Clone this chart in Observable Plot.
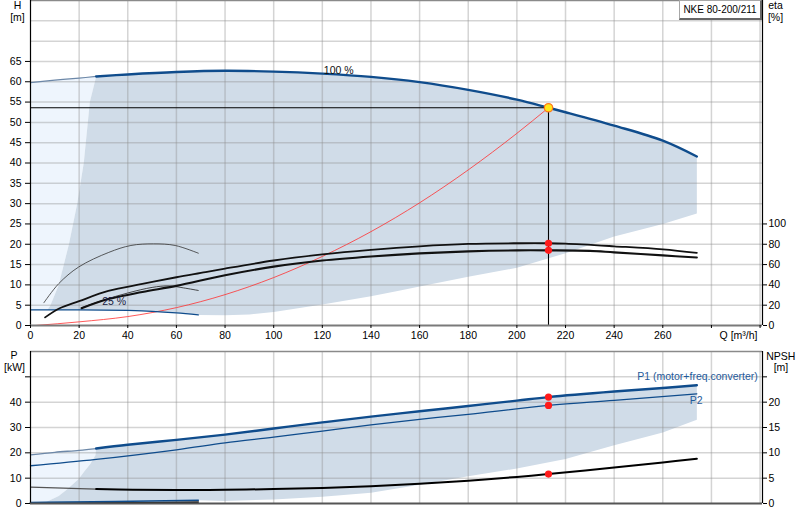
<!DOCTYPE html>
<html><head><meta charset="utf-8">
<script src="https://cdn.jsdelivr.net/npm/d3@7"></script>
<script src="https://cdn.jsdelivr.net/npm/@observablehq/plot@0.6"></script>
<style>
html,body{margin:0;padding:0;background:#fff;}
#wrap{position:relative;width:800px;height:520px;overflow:hidden;font-family:"Liberation Sans",Arial,sans-serif;background:#fff;}
#top,#bot{position:absolute;left:0;}
#top{top:0;} #bot{top:342px;}
#model{position:absolute;left:679px;top:0;width:83px;height:20px;box-sizing:border-box;border:1px solid #a8a8a8;border-right:2px solid #666;border-bottom:2px solid #666;background:#fff;font-size:10px;line-height:18px;text-align:center;color:#000;}
</style></head><body>
<div id="wrap"><div id="top"></div><div id="bot"></div><div id="model">NKE 80-200/211</div></div>
<script>
// ---- scale links between the twin axes
const ETA_TO_H = 0.25;   // eta axis: 100 % sits at H = 25 m
const NPSH_TO_P = 2;     // NPSH axis: 25 m sits at P = 50 kW

// ---- axis ticks
const qTicks = [0, 20, 40, 60, 80, 100, 120, 140, 160, 180, 200, 220, 240, 260, 280, 300];
const qLabelMax = 260;
const hTicks = [0, 5, 10, 15, 20, 25, 30, 35, 40, 45, 50, 55, 60, 65];
const hGrid = [5, 10, 15, 20, 25, 30, 35, 40, 45, 50, 55, 60, 65, 70, 75];
const etaTicks = [0, 20, 40, 60, 80, 100];
const pTicks = [0, 10, 20, 30, 40, 50];
const pLabelMax = 40;
const npshTicks = [0, 5, 10, 15, 20, 25];
const npshLabelMax = 20;

// ---- top chart: head H [m] vs Q [m³/h]
const qh100Q = [0, 10, 20, 27, 40, 60, 80, 100, 120, 140, 160, 180, 200, 213, 220, 240, 260, 274];
const qh100H = [59.8, 60.4, 60.9, 61.3, 61.8, 62.4, 62.7, 62.5, 62.0, 61.2, 59.9, 58.0, 55.6, 53.6, 52.5, 49.2, 45.5, 41.6];
const qh25Q = [0, 7, 10, 20, 30, 40, 50, 60, 69];
const qh25H = [3.85, 3.85, 3.85, 3.85, 3.8, 3.7, 3.5, 3.1, 2.6];
const hLeftQ = [7, 8.2, 11.6, 15.8, 19.2, 21.9, 24.4, 27];
const hLeftH = [3.85, 5, 10, 20, 30, 40, 55, 61.3];
const hLowQ = [69, 80, 90, 100, 120, 140, 152, 160, 180, 200, 220, 240, 260, 274];
const hLowH = [2.6, 2.5, 2.7, 3.3, 5.2, 7.2, 8.6, 9.6, 12.0, 14.2, 17.8, 21.9, 25.0, 27.6];
const sysQ = [2, 20, 40, 60, 80, 100, 120, 140, 160, 180, 200, 213];
const sysH = [0, 0.9, 2.2, 4.4, 7.6, 11.8, 17.0, 23.1, 30.2, 38.3, 47.3, 53.6];
// efficiencies [%]
const etaPumpQ = [6, 12, 20, 32, 46, 60, 72, 80, 100, 120, 140, 160, 180, 200, 213, 220, 240, 260, 274];
const etaPump = [8, 17, 24, 34, 41, 47.5, 52.5, 56, 64, 70, 74.5, 78, 80.3, 81, 81, 80.6, 78, 75, 71.5];
const etaTotQ = [21, 32, 46, 60, 80, 100, 120, 140, 160, 180, 200, 213, 230, 240, 260, 274];
const etaTot = [17, 26, 33, 39, 49.5, 58, 64, 68, 71, 73, 74, 74, 73.5, 72, 69, 67];
const etaPump25Q = [5.5, 11.6, 19.8, 32.2, 41.3, 50.6, 59.5, 69];
const etaPump25 = [22.4, 41.2, 57.6, 72, 78.8, 80.4, 78.8, 71.2];
const etaTot25Q = [21, 30, 40, 50, 57, 63, 69];
const etaTot25 = [17.5, 25, 32, 37.5, 39, 37, 34.5];
const dutyQ = 213, dutyH = 53.6, dutyEtaPump = 81, dutyEtaTot = 74;
const curveLabels = [{q: 120.6, h: 62.8, text: "100 %", color: "#111"}, {q: 29.5, h: 6.0, text: "25 %", color: "#1a1a40"}];

// ---- bottom chart: power P [kW] and NPSH [m] vs Q
const p1Q = [0, 10, 20, 27, 40, 60, 80, 100, 120, 140, 160, 180, 200, 213, 240, 260, 274];
const p1 = [19.2, 20.2, 21.0, 21.7, 23.2, 25.1, 27.2, 29.6, 32.0, 34.3, 36.4, 38.5, 40.6, 42.0, 44.2, 45.6, 46.7];
const p2Q = [0, 27, 60, 80, 100, 120, 140, 160, 180, 213, 240, 274];
const p2 = [14.9, 17.4, 21.2, 23.9, 26.2, 28.6, 31.0, 33.2, 35.2, 38.7, 40.7, 43.3];
const npshQ = [0, 27, 42, 60, 80, 100, 120, 140, 160, 180, 200, 213, 240, 260, 274];
const npsh = [3.25, 2.85, 2.7, 2.65, 2.7, 2.85, 3.05, 3.4, 3.9, 4.5, 5.25, 5.8, 7.1, 8.1, 8.85];
const p1min25Q = [0, 6.2, 35, 69];
const p1min25 = [0.4, 0.45, 0.8, 1.3];
const p2min25Q = [0, 35, 69];
const p2min25 = [0.15, 0.3, 0.55];
const pLeftQ = [6.2, 11.6, 15, 19.8, 22.1, 24.6, 26.7, 27];
const pLeft = [0.45, 3.0, 5.5, 9.7, 12.6, 15.6, 19.0, 21.7];
const pLowQ = [69, 80, 100, 120, 140, 160, 180, 200, 220, 240, 260, 274];
const pLow = [1.3, 1.0, 1.6, 2.7, 4.2, 7.4, 10.8, 13.8, 17.6, 23.0, 28.0, 33.1];
const dutyP1 = 42.0, dutyP2 = 38.7, dutyNpsh = 5.8;
const powerLabels = [{q: 249.5, p: 49.9, text: "P1 (motor+freq.converter)"}, {q: 271.1, p: 40.7, text: "P2"}];

// ---- styling
const FONT = '"Liberation Sans", Arial, sans-serif';
const BLUE = "#0f4c8c", BLUE_THIN = "#6d88a8", DARK = "#d0dce8", LIGHT = "#eef5fd";
const GRID = {stroke: "#8f8f8f", strokeOpacity: 0.38, strokeWidth: 1.5};
const LBL = {textAnchor: "middle", lineAnchor: "middle", fontSize: 10.5, fill: "#000"};

const zip = (xs, ys, k = 1) => xs.map((x, i) => ({q: x, v: ys[i] * k}));
const rev = a => a.slice().reverse();

// top polygons
const qh100 = zip(qh100Q, qh100H), qh25 = zip(qh25Q, qh25H);
const hLeft = zip(hLeftQ, hLeftH), hLow = zip(hLowQ, hLowH);
const QSTART = hLeftQ[hLeftQ.length - 1], QMIN = hLeftQ[0];
const topLight = [...qh100.filter(d => d.q <= QSTART), ...rev(hLeft), ...rev(qh25.filter(d => d.q < QMIN))];
const topDark = [...hLeft, ...qh100.filter(d => d.q > QSTART), ...rev(hLow), ...rev(qh25.filter(d => d.q > QMIN && d.q < hLowQ[0]))];

const topPlot = Plot.plot({
  width: 800, height: 342,
  marginLeft: 30, marginRight: 38, marginTop: 0, marginBottom: 17,
  style: {fontFamily: FONT, fontSize: "10.5px", color: "#000", background: "transparent", overflow: "visible"},
  x: {domain: [0, 301], axis: null},
  y: {domain: [0, 80], axis: null},
  marks: [
    Plot.line(topLight, {x: "q", y: "v", fill: LIGHT, stroke: "none"}),
    Plot.line(topDark, {x: "q", y: "v", fill: DARK, stroke: "none"}),
    Plot.gridX(qTicks.filter(d => d > 0), GRID),
    Plot.gridY(hGrid, GRID),
    Plot.ruleY([80], {stroke: "#8a8a8a", strokeWidth: 1.5}),
    // system curve
    Plot.line(zip(sysQ, sysH), {x: "q", y: "v", stroke: "#ff3030", strokeWidth: 0.8, curve: "monotone-x"}),
    // 25 % curves
    Plot.line(zip(etaPump25Q, etaPump25, ETA_TO_H), {x: "q", y: "v", stroke: "#333", strokeWidth: 0.8, curve: "catmull-rom"}),
    Plot.line(zip(etaTot25Q, etaTot25, ETA_TO_H), {x: "q", y: "v", stroke: "#333", strokeWidth: 0.9, curve: "catmull-rom"}),
    Plot.line(qh25, {x: "q", y: "v", stroke: BLUE, strokeWidth: 1.3, curve: "monotone-x"}),
    // 100 % efficiency curves
    Plot.line(zip(etaPumpQ, etaPump, ETA_TO_H), {x: "q", y: "v", stroke: "#111", strokeWidth: 1.8, curve: "catmull-rom"}),
    Plot.line(zip(etaTotQ, etaTot, ETA_TO_H), {x: "q", y: "v", stroke: "#111", strokeWidth: 2.1, curve: "catmull-rom"}),
    // 100 % QH curve
    Plot.line(qh100.filter(d => d.q <= QSTART), {x: "q", y: "v", stroke: BLUE_THIN, strokeWidth: 1.2, curve: "catmull-rom"}),
    Plot.line(qh100.filter(d => d.q >= QSTART), {x: "q", y: "v", stroke: BLUE, strokeWidth: 2.4, curve: "catmull-rom"}),
    // duty point guides
    Plot.ruleY([dutyH], {x1: 0, x2: dutyQ, stroke: "#000", strokeWidth: 1.1}),
    Plot.ruleX([dutyQ], {y1: 0, y2: dutyH, stroke: "#000", strokeWidth: 1.1}),
    Plot.dot([{q: dutyQ, v: dutyEtaPump * ETA_TO_H}, {q: dutyQ, v: dutyEtaTot * ETA_TO_H}], {x: "q", y: "v", r: 3.6, fill: "#ff1a1a", stroke: "none"}),
    Plot.dot([{q: dutyQ, v: dutyH}], {x: "q", y: "v", r: 4.2, fill: "#ffe81a", stroke: "#ff7a1a", strokeWidth: 1.3}),
    // curve labels
    Plot.text(curveLabels, {x: "q", y: "h", text: "text", fill: "color", textAnchor: "start", fontSize: 10.5}),
    // frame and axes
    Plot.ruleX([0, 301], {stroke: "#000", strokeWidth: 1.2}),
    Plot.ruleY([0], {stroke: "#7a7a7a", strokeWidth: 2.2}),
    Plot.axisY(hTicks, {anchor: "left", tickSize: 5, tickPadding: 4, label: null, tickFormat: d => String(d)}),
    Plot.axisY(etaTicks.map(e => e * ETA_TO_H), {anchor: "right", tickSize: 4, tickPadding: 2, label: null, tickFormat: d => String(Math.round(d / ETA_TO_H))}),
    Plot.axisX(qTicks, {anchor: "bottom", tickSize: 3, tickPadding: 3, label: null, tickFormat: d => d > qLabelMax ? "" : String(d)}),
    // axis titles
    Plot.text(["H"], {frameAnchor: "top-left", text: d => d, dx: -13, dy: 5, ...LBL}),
    Plot.text(["[m]"], {frameAnchor: "top-left", text: d => d, dx: -13, dy: 17.5, ...LBL}),
    Plot.text(["eta"], {frameAnchor: "top-right", text: d => d, dx: 13, dy: 5, ...LBL}),
    Plot.text(["[%]"], {frameAnchor: "top-right", text: d => d, dx: 13, dy: 17.5, ...LBL}),
    Plot.text(["Q [m³/h]"], {frameAnchor: "bottom-right", text: d => d, ...LBL, textAnchor: "end", dx: -5, dy: 10})
  ]
});
document.getElementById("top").append(topPlot);

// bottom polygons
const p1pts = zip(p1Q, p1), p1m = zip(p1min25Q, p1min25);
const pL = zip(pLeftQ, pLeft), pLo = zip(pLowQ, pLow);
const PSTART = pLeftQ[pLeftQ.length - 1], PMIN = pLeftQ[0];
const botLight = [...p1pts.filter(d => d.q <= PSTART), ...rev(pL), ...rev(p1m.filter(d => d.q < PMIN))];
const botDark = [...pL, ...p1pts.filter(d => d.q > PSTART), ...rev(pLo), ...rev(p1m.filter(d => d.q > PMIN && d.q < pLowQ[0]))];
const npshPts = zip(npshQ, npsh, NPSH_TO_P);

const botPlot = Plot.plot({
  width: 800, height: 178,
  marginLeft: 30, marginRight: 38, marginTop: 9, marginBottom: 17,
  style: {fontFamily: FONT, fontSize: "10.5px", color: "#000", background: "transparent", overflow: "visible"},
  x: {domain: [0, 301], axis: null},
  y: {domain: [0, 60], axis: null},
  marks: [
    Plot.line(botLight, {x: "q", y: "v", fill: LIGHT, stroke: "none"}),
    Plot.line(botDark, {x: "q", y: "v", fill: DARK, stroke: "none"}),
    Plot.gridX(qTicks.filter(d => d > 0), GRID),
    Plot.gridY(pTicks.filter(d => d > 0), GRID),
    Plot.ruleY([60], {stroke: "#8a8a8a", strokeWidth: 1.5}),
    // 25 % power curves
    Plot.line(zip(p2min25Q, p2min25), {x: "q", y: "v", stroke: "#222", strokeWidth: 1.6}),
    Plot.line(p1m, {x: "q", y: "v", stroke: BLUE, strokeWidth: 1.6}),
    // NPSH
    Plot.line(npshPts.filter(d => d.q <= PSTART), {x: "q", y: "v", stroke: "#555", strokeWidth: 1.2, curve: "catmull-rom"}),
    Plot.line(npshPts.filter(d => d.q >= PSTART), {x: "q", y: "v", stroke: "#000", strokeWidth: 2, curve: "catmull-rom"}),
    // P2 and P1
    Plot.line(zip(p2Q, p2), {x: "q", y: "v", stroke: BLUE, strokeWidth: 1.3, curve: "catmull-rom"}),
    Plot.line(p1pts.filter(d => d.q <= PSTART), {x: "q", y: "v", stroke: BLUE_THIN, strokeWidth: 1.3, curve: "catmull-rom"}),
    Plot.line(p1pts.filter(d => d.q >= PSTART), {x: "q", y: "v", stroke: BLUE, strokeWidth: 2.4, curve: "catmull-rom"}),
    Plot.dot([{q: dutyQ, v: dutyP1}, {q: dutyQ, v: dutyP2}, {q: dutyQ, v: dutyNpsh * NPSH_TO_P}], {x: "q", y: "v", r: 3.6, fill: "#ff1a1a", stroke: "none"}),
    Plot.text(powerLabels, {x: "q", y: "p", text: "text", fill: "#1f5a9a", textAnchor: "start", fontSize: 10.5}),
    // frame and axes
    Plot.ruleX([0, 301], {stroke: "#000", strokeWidth: 1.2}),
    Plot.ruleY([0], {stroke: "#555", strokeWidth: 2}),
    Plot.axisY(pTicks, {anchor: "left", tickSize: 5, tickPadding: 4, label: null, tickFormat: d => d > pLabelMax ? "" : String(d)}),
    Plot.axisY(npshTicks.map(n => n * NPSH_TO_P), {anchor: "right", tickSize: 4, tickPadding: 2, label: null, tickFormat: d => (d / NPSH_TO_P) > npshLabelMax ? "" : String(d / NPSH_TO_P)}),
    Plot.text(["P"], {frameAnchor: "top-left", text: d => d, dx: -16.5, dy: 4, ...LBL}),
    Plot.text(["[kW]"], {frameAnchor: "top-left", text: d => d, dx: -16, dy: 16.5, ...LBL}),
    Plot.text(["NPSH"], {frameAnchor: "top-right", text: d => d, dx: 18.3, dy: 4.7, ...LBL}),
    Plot.text(["[m]"], {frameAnchor: "top-right", text: d => d, dx: 18.5, dy: 16, ...LBL})
  ]
});
document.getElementById("bot").append(botPlot);
</script>
</body></html>
